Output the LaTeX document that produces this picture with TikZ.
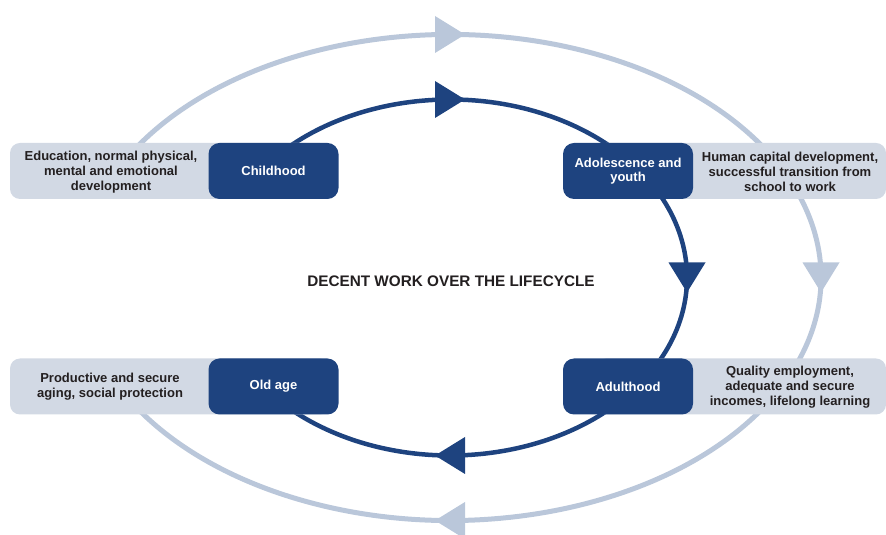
\documentclass[tikz,border=0pt]{standalone}
\usepackage{fontspec}
\setmainfont{Liberation Sans}
\usepackage{tikz}
\definecolor{stageblue}{HTML}{1E437F}
\definecolor{infogrey}{HTML}{D2D9E4}
\definecolor{cycleblue}{HTML}{BAC7DA}
\definecolor{inktext}{HTML}{231F20}
\tikzset{>=latex,
  stage/.style={fill=stageblue, text=white, rounded corners=11pt, minimum width=130pt,
    minimum height=56pt, inner sep=0pt, align=center,
    font=\bfseries\fontsize{13}{14.7}\selectfont},
  info/.style={fill=infogrey, rounded corners=10pt, minimum height=56pt, inner sep=0pt},
  infotext/.style={text=inktext, align=center, inner sep=0pt,
    font=\bfseries\fontsize{13}{14.7}\selectfont},
  innerring/.style={draw=stageblue, line width=4.5pt},
  outerring/.style={draw=cycleblue, line width=5pt}
}
\newcommand{\ringtip}[3]{\fill[#3, shift={#1}, rotate=#2] (15,0) -- (-15,18.5) -- (-15,-18.5) -- cycle;}

\begin{document}
\begin{tikzpicture}[x=1pt,y=1pt]
\clip (0,0) rectangle (886,535);
\useasboundingbox (0,0) rectangle (886,535);
\coordinate (centre) at (450,257.5);
\draw [outerring] ([shift={(155:371 and 243)}]centre) arc [start angle=155, end angle=-155, x radius=371, y radius=243];
\draw [innerring] ([shift={(143:237 and 178)}]centre) arc [start angle=143, end angle=-143, x radius=237, y radius=178];
\ringtip{(450,500.5)}{0}{cycleblue}
\ringtip{(821,257.5)}{-90}{cycleblue}
\ringtip{(450,14.5)}{180}{cycleblue}
\ringtip{(450,435.5)}{0}{stageblue}
\ringtip{(687,257.5)}{-90}{stageblue}
\ringtip{(450,79.5)}{180}{stageblue}
\node [info, minimum width=320pt] (childbg) at (170,364) {};
\node [info, minimum width=290pt] (youthbg) at (741,364) {};
\node [info, minimum width=320pt] (oldbg) at (170,148.5) {};
\node [info, minimum width=290pt] (adultbg) at (741,148.5) {};
\node [infotext] (childtxt) at (111,363) {Education, normal physical,\\mental and emotional\\development};
\node [infotext] (youthtxt) at (790,363) {Human capital development,\\successful transition from\\school to work};
\node [infotext] (oldtxt) at (110,148) {Productive and secure\\aging, social protection};
\node [infotext] (adulttxt) at (790,148) {Quality employment,\\adequate and secure\\incomes, lifelong learning};
\node [stage] (child) at (273.5,364) {Childhood};
\node [stage] (youth) at (628,364) {Adolescence and\\youth};
\node [stage] (old) at (273.5,148.5) {Old age};
\node [stage] (adult) at (628,148.5) {Adulthood};
\node [text=inktext, font=\bfseries\fontsize{15.3}{17}\selectfont] (title) at (451,254) {DECENT WORK OVER THE LIFECYCLE};
\end{tikzpicture}
\end{document}
